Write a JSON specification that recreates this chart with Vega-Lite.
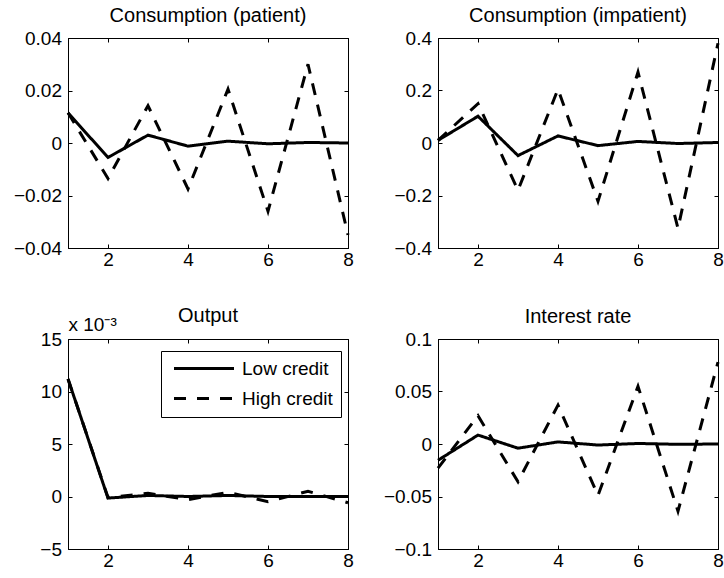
{
  "$schema": "https://vega.github.io/schema/vega-lite/v6.json",
  "padding": {"left": 12, "top": 5, "right": 0, "bottom": 0},
  "background": "white",
  "data": {"values": [
    {"p":"patient","t":1,"s":"Low credit","v":0.0115},{"p":"patient","t":2,"s":"Low credit","v":-0.0055},{"p":"patient","t":3,"s":"Low credit","v":0.003},{"p":"patient","t":4,"s":"Low credit","v":-0.0012},{"p":"patient","t":5,"s":"Low credit","v":0.0007},{"p":"patient","t":6,"s":"Low credit","v":-0.0003},{"p":"patient","t":7,"s":"Low credit","v":0.0002},{"p":"patient","t":8,"s":"Low credit","v":0.0},
    {"p":"patient","t":1,"s":"High credit","v":0.0115},{"p":"patient","t":2,"s":"High credit","v":-0.0135},{"p":"patient","t":3,"s":"High credit","v":0.0142},{"p":"patient","t":4,"s":"High credit","v":-0.0175},{"p":"patient","t":5,"s":"High credit","v":0.0205},{"p":"patient","t":6,"s":"High credit","v":-0.026},{"p":"patient","t":7,"s":"High credit","v":0.030},{"p":"patient","t":8,"s":"High credit","v":-0.035},
    {"p":"impatient","t":1,"s":"Low credit","v":0.01},{"p":"impatient","t":2,"s":"Low credit","v":0.102},{"p":"impatient","t":3,"s":"Low credit","v":-0.048},{"p":"impatient","t":4,"s":"Low credit","v":0.027},{"p":"impatient","t":5,"s":"Low credit","v":-0.01},{"p":"impatient","t":6,"s":"Low credit","v":0.006},{"p":"impatient","t":7,"s":"Low credit","v":-0.002},{"p":"impatient","t":8,"s":"Low credit","v":0.002},
    {"p":"impatient","t":1,"s":"High credit","v":0.01},{"p":"impatient","t":2,"s":"High credit","v":0.15},{"p":"impatient","t":3,"s":"High credit","v":-0.18},{"p":"impatient","t":4,"s":"High credit","v":0.205},{"p":"impatient","t":5,"s":"High credit","v":-0.222},{"p":"impatient","t":6,"s":"High credit","v":0.27},{"p":"impatient","t":7,"s":"High credit","v":-0.325},{"p":"impatient","t":8,"s":"High credit","v":0.38},
    {"p":"output","t":1,"s":"Low credit","v":0.0112},{"p":"output","t":2,"s":"Low credit","v":-0.00015},{"p":"output","t":3,"s":"Low credit","v":0.0001},{"p":"output","t":4,"s":"Low credit","v":0.0},{"p":"output","t":5,"s":"Low credit","v":0.0001},{"p":"output","t":6,"s":"Low credit","v":0.0},{"p":"output","t":7,"s":"Low credit","v":0.0},{"p":"output","t":8,"s":"Low credit","v":0.0},
    {"p":"output","t":1,"s":"High credit","v":0.0112},{"p":"output","t":2,"s":"High credit","v":-0.0001},{"p":"output","t":3,"s":"High credit","v":0.0003},{"p":"output","t":4,"s":"High credit","v":-0.0003},{"p":"output","t":5,"s":"High credit","v":0.0004},{"p":"output","t":6,"s":"High credit","v":-0.0005},{"p":"output","t":7,"s":"High credit","v":0.0005},{"p":"output","t":8,"s":"High credit","v":-0.0006},
    {"p":"rate","t":1,"s":"Low credit","v":-0.0155},{"p":"rate","t":2,"s":"Low credit","v":0.0085},{"p":"rate","t":3,"s":"Low credit","v":-0.004},{"p":"rate","t":4,"s":"Low credit","v":0.002},{"p":"rate","t":5,"s":"Low credit","v":-0.001},{"p":"rate","t":6,"s":"Low credit","v":0.0005},{"p":"rate","t":7,"s":"Low credit","v":-0.0003},{"p":"rate","t":8,"s":"Low credit","v":0.0},
    {"p":"rate","t":1,"s":"High credit","v":-0.023},{"p":"rate","t":2,"s":"High credit","v":0.027},{"p":"rate","t":3,"s":"High credit","v":-0.036},{"p":"rate","t":4,"s":"High credit","v":0.037},{"p":"rate","t":5,"s":"High credit","v":-0.049},{"p":"rate","t":6,"s":"High credit","v":0.055},{"p":"rate","t":7,"s":"High credit","v":-0.064},{"p":"rate","t":8,"s":"High credit","v":0.078}
  ]},
  "columns": 2,
  "spacing": {"row": 35, "column": 27},
  "resolve": {"scale": {"strokeDash": "independent"}, "legend": {"strokeDash": "independent"}},
  "concat": [
    {
      "title": "Consumption (patient)",
      "width": 280, "height": 210,
      "transform": [{"filter": "datum.p === 'patient'"}],
      "layer": [
        {"mark": {"type": "line", "color": "black", "strokeWidth": 3},
         "encoding": {
           "x": {"field": "t", "type": "quantitative", "scale": {"domain": [1, 8], "nice": false}, "axis": {"values": [2,4,6,8], "title": null, "labelPadding": 6}},
           "y": {"field": "v", "type": "quantitative", "scale": {"domain": [-0.04, 0.04], "nice": false}, "axis": {"values": [-0.04,-0.02,0,0.02,0.04], "format": "~g", "title": null}},
           "strokeDash": {"field": "s", "type": "nominal", "scale": {"domain": ["Low credit", "High credit"], "range": [[1,0],[12,10]]}, "legend": null}
         }},
        {"mark": {"type": "line", "strokeOpacity": 0},
         "encoding": {
           "x": {"field": "t", "type": "quantitative", "axis": {"orient": "top", "values": [2,4,6,8], "labels": false, "title": null}},
           "y": {"field": "v", "type": "quantitative", "axis": {"orient": "right", "values": [-0.04,-0.02,0,0.02,0.04], "labels": false, "title": null}}
         }}
      ],
      "resolve": {"axis": {"x": "independent", "y": "independent"}}
    },
    {
      "title": "Consumption (impatient)",
      "width": 280, "height": 210,
      "transform": [{"filter": "datum.p === 'impatient'"}],
      "layer": [
        {"mark": {"type": "line", "color": "black", "strokeWidth": 3},
         "encoding": {
           "x": {"field": "t", "type": "quantitative", "scale": {"domain": [1, 8], "nice": false}, "axis": {"values": [2,4,6,8], "title": null, "labelPadding": 6}},
           "y": {"field": "v", "type": "quantitative", "scale": {"domain": [-0.4, 0.4], "nice": false}, "axis": {"values": [-0.4,-0.2,0,0.2,0.4], "format": "~g", "title": null}},
           "strokeDash": {"field": "s", "type": "nominal", "scale": {"domain": ["Low credit", "High credit"], "range": [[1,0],[12,10]]}, "legend": null}
         }},
        {"mark": {"type": "line", "strokeOpacity": 0},
         "encoding": {
           "x": {"field": "t", "type": "quantitative", "axis": {"orient": "top", "values": [2,4,6,8], "labels": false, "title": null}},
           "y": {"field": "v", "type": "quantitative", "axis": {"orient": "right", "values": [-0.4,-0.2,0,0.2,0.4], "labels": false, "title": null}}
         }}
      ],
      "resolve": {"axis": {"x": "independent", "y": "independent"}}
    },
    {
      "title": {"text": "Output", "dy": 14.5},
      "width": 280, "height": 210,
      "transform": [{"filter": "datum.p === 'output'"}],
      "layer": [
        {"mark": {"type": "line", "color": "black", "strokeWidth": 3},
         "encoding": {
           "x": {"field": "t", "type": "quantitative", "scale": {"domain": [1, 8], "nice": false}, "axis": {"values": [2,4,6,8], "title": null, "labelPadding": 6}},
           "y": {"field": "v", "type": "quantitative", "scale": {"domain": [-0.005, 0.015], "nice": false}, "axis": {"values": [-0.005,0,0.005,0.01,0.015], "labelExpr": "format(datum.value*1000, '~g')", "title": "x 10⁻³", "titleAngle": 0, "titleX": 0, "titleY": -9, "titleAlign": "left", "titleBaseline": "alphabetic", "titleFontSize": 19, "titleFontWeight": "normal"}},
           "strokeDash": {"field": "s", "type": "nominal", "scale": {"domain": ["Low credit", "High credit"], "range": [[1,0],[12,11]]},
             "legend": {"orient": "none", "legendX": 93, "legendY": 12, "title": null, "strokeColor": "black", "fillColor": "white", "padding": 8, "symbolType": "M-0.6,0H7.4", "symbolSize": 225, "symbolStrokeWidth": 3, "symbolStrokeColor": "black", "symbolFillColor": "transparent", "labelFontSize": 19, "labelFont": "Liberation Sans", "labelColor": "black", "labelOffset": 54, "rowPadding": 10}}
         }},
        {"mark": {"type": "line", "strokeOpacity": 0},
         "encoding": {
           "x": {"field": "t", "type": "quantitative", "axis": {"orient": "top", "values": [2,4,6,8], "labels": false, "title": null}},
           "y": {"field": "v", "type": "quantitative", "axis": {"orient": "right", "values": [-0.005,0,0.005,0.01,0.015], "labels": false, "title": null}}
         }}
      ],
      "resolve": {"axis": {"x": "independent", "y": "independent"}}
    },
    {
      "title": "Interest rate",
      "width": 280, "height": 210,
      "transform": [{"filter": "datum.p === 'rate'"}],
      "layer": [
        {"mark": {"type": "line", "color": "black", "strokeWidth": 3},
         "encoding": {
           "x": {"field": "t", "type": "quantitative", "scale": {"domain": [1, 8], "nice": false}, "axis": {"values": [2,4,6,8], "title": null, "labelPadding": 6}},
           "y": {"field": "v", "type": "quantitative", "scale": {"domain": [-0.1, 0.1], "nice": false}, "axis": {"values": [-0.1,-0.05,0,0.05,0.1], "format": "~g", "title": null}},
           "strokeDash": {"field": "s", "type": "nominal", "scale": {"domain": ["Low credit", "High credit"], "range": [[1,0],[12,10]]}, "legend": null}
         }},
        {"mark": {"type": "line", "strokeOpacity": 0},
         "encoding": {
           "x": {"field": "t", "type": "quantitative", "axis": {"orient": "top", "values": [2,4,6,8], "labels": false, "title": null}},
           "y": {"field": "v", "type": "quantitative", "axis": {"orient": "right", "values": [-0.1,-0.05,0,0.05,0.1], "labels": false, "title": null}}
         }}
      ],
      "resolve": {"axis": {"x": "independent", "y": "independent"}}
    }
  ],
  "config": {
    "font": "Liberation Sans",
    "view": {"stroke": "black", "strokeWidth": 1},
    "axis": {"domainColor": "black", "domainWidth": 1, "tickColor": "black", "tickWidth": 1, "tickSize": -4, "labelColor": "black", "labelFont": "Liberation Sans", "labelFontSize": 19, "labelPadding": 10.5, "labelFlush": false, "labelOverlap": false, "grid": false, "titleColor": "black", "titleFont": "Liberation Sans"},
    "title": {"font": "Liberation Sans", "fontSize": 20, "fontWeight": "normal", "color": "black", "anchor": "middle", "frame": "group", "baseline": "alphabetic", "offset": 3.5}
  }
}
